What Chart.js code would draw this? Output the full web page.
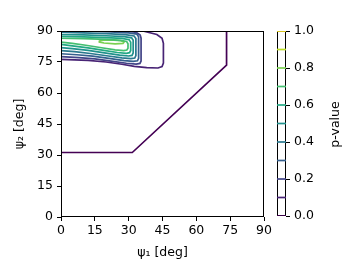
<!DOCTYPE html>
<html><head><meta charset="utf-8">
<script src="https://cdn.jsdelivr.net/npm/chart.js@4/dist/chart.umd.min.js"></script>
<style>
html,body{margin:0;padding:0;background:#fff;overflow:hidden}
#wrap{position:relative;width:350px;height:263px}
#main{position:absolute;left:0;top:0}
#cb{position:absolute;left:270px;top:0}
</style></head><body>
<div id="wrap"><canvas id="main" width="350" height="263"></canvas><canvas id="cb" width="80" height="263"></canvas></div>
<script>
// ---- data (degrees) ----
const xTicks = [0, 15, 30, 45, 60, 75, 90];
const yTicks = [0, 15, 30, 45, 60, 75, 90];
const cbTicks = [0.0, 0.2, 0.4, 0.6, 0.8, 1.0];
const levels = [0.0, 0.1, 0.2, 0.3, 0.4, 0.5, 0.6, 0.7, 0.8, 0.9, 1.0];
const xLabel = 'ψ₁ [deg]';
const yLabel = 'ψ₂ [deg]';
const cbLabel = 'p-value';

// contour lines: [psi1, psi2] vertices per p-value level
const c00 = [[0,31.2],[31.6,31.2],[73.4,73.5],[73.4,90]];
const c01 = [[36.3,90],[42.5,88.3],[44.8,86.5],[45.4,84],[45.4,74.5],[44.8,72.8],[43,72.1],[38,72.3],[32.5,72.9],[27,73.9],[20,75.0],[12,75.8],[0,76.3]];
const c02 = [[29,90],[33.5,89.3],[35.1,88],[35.5,86.5],[35.5,75.5],[35,74.3],[33.3,74],[29,74.4],[23,75.3],[15,76.5],[8,77.1],[0,77.6]];
const c03 = [[12,90],[22,89.6],[30,89.1],[33.6,88.5],[34.4,87.2],[34.4,76.8],[33.9,75.6],[32,75.3],[28,75.7],[22,76.6],[14,77.8],[7,78.5],[0,79]];
const c04 = [[0,89.4],[10,89.1],[20,88.7],[28.5,88.2],[32.4,87.6],[33.2,86.4],[33.2,78.1],[32.7,76.9],[31,76.6],[27,77],[21,77.9],[13,79.1],[6,80],[0,80.5]];
const c05 = [[0,88.3],[10,88.1],[20,87.7],[28,87.3],[31.3,86.7],[32,85.5],[32,79.4],[31.5,78.2],[30,77.9],[26,78.3],[20,79.3],[12,80.6],[5,81.5],[0,82]];
const c06 = [[0,87.4],[10,87.2],[20,86.8],[27,86.4],[30.2,85.8],[30.9,84.6],[30.9,80.6],[30.4,79.5],[29,79.2],[25,79.6],[19,80.6],[12,81.8],[5,82.8],[0,83.5]];
const c07 = [[0,86.5],[10,86.3],[20,85.9],[26.5,85.5],[29.1,84.9],[29.7,83.8],[29.7,81.7],[29.2,80.8],[27.8,80.5],[24,80.9],[18,81.9],[11,83.1],[5,84],[0,84.6]];
const c08 = [[17,85.4],[22,85.7],[26.5,85.3],[28,84.7],[27.5,84.0],[24,83.8],[19,84.2],[17,84.7],[17,85.4]];
const contourLevels = [0.0, 0.1, 0.2, 0.3, 0.4, 0.5, 0.6, 0.7, 0.8];
const contourLines = [c00, c01, c02, c03, c04, c05, c06, c07, c08];

// ---- style ----
const viridis = ['#440154','#482475','#414487','#355f8d','#2a788e','#21918c','#22a884','#44bf70','#7ad151','#bddf26','#fde725'];
const colorFor = v => viridis[Math.round(v * 10)];
const FS = 12.5;
const FONT = {family: "'DejaVu Sans'", size: FS, lineHeight: 1.2};
Chart.defaults.font = {family: "'DejaVu Sans'", size: FS};
Chart.defaults.color = '#000';

function drawFrame(chart) {
  const a = chart.chartArea, ctx = chart.ctx;
  ctx.save();
  ctx.strokeStyle = '#000';
  ctx.lineWidth = 1;
  const l = Math.round(a.left) + 0.5, t = Math.round(a.top) + 0.5;
  const r = Math.round(a.right) - 0.5, b = Math.round(a.bottom) - 0.5;
  ctx.strokeRect(l, t, r - l, b - t);
  ctx.restore();
}

new Chart(document.getElementById('main'), {
  type: 'scatter',
  data: {
    datasets: contourLines.map((pts, i) => ({
      data: pts.map(p => ({x: p[0], y: p[1]})),
      showLine: true,
      borderColor: colorFor(contourLevels[i]),
      borderWidth: 1.7,
      pointRadius: 0,
      tension: 0,
      fill: false
    }))
  },
  options: {
    responsive: false, animation: false,
    layout: {padding: {top: 31, right: 86, left: 0, bottom: 0}},
    plugins: {legend: {display: false}, tooltip: {enabled: false}},
    scales: {
      x: {
        type: 'linear', min: 0, max: 90,
        afterBuildTicks: s => { s.ticks = xTicks.map(v => ({value: v})); },
        afterFit: s => { s.height = 46; },
        grid: {drawOnChartArea: false, drawTicks: true, tickLength: 4, tickColor: '#000', lineWidth: 1},
        border: {display: false},
        ticks: {padding: 2, color: '#000', font: FONT, maxRotation: 0},
        title: {display: true, text: xLabel, color: '#000', font: FONT, padding: {top: 0, bottom: 3}}
      },
      y: {
        type: 'linear', min: 0, max: 90,
        afterBuildTicks: s => { s.ticks = yTicks.map(v => ({value: v})); },
        afterFit: s => { s.width = 61; },
        grid: {drawOnChartArea: false, drawTicks: true, tickLength: 4, tickColor: '#000', lineWidth: 1},
        border: {display: false},
        ticks: {padding: 4, color: '#000', font: FONT},
        title: {display: true, text: yLabel, color: '#000', font: FONT, padding: {top: 12, bottom: 0}}
      }
    }
  },
  plugins: [{id: 'frame', afterDatasetsDraw: drawFrame}]
});

new Chart(document.getElementById('cb'), {
  type: 'scatter',
  data: {
    datasets: levels.map(l => ({
      data: [{x: 0, y: l}, {x: 1, y: l}],
      showLine: true,
      borderColor: colorFor(l),
      borderWidth: 1.7,
      pointRadius: 0
    }))
  },
  options: {
    responsive: false, animation: false,
    layout: {padding: {top: 31, right: 0, left: 7, bottom: 47}},
    plugins: {legend: {display: false}, tooltip: {enabled: false}},
    scales: {
      x: {type: 'linear', min: 0, max: 1, display: false},
      y: {
        type: 'linear', position: 'right', min: 0, max: 1,
        afterBuildTicks: s => { s.ticks = cbTicks.map(v => ({value: v})); },
        afterFit: s => { s.width = 64; },
        grid: {drawOnChartArea: false, drawTicks: true, tickLength: 4, tickColor: '#000'},
        border: {display: false},
        ticks: {padding: 4, color: '#000', font: FONT, callback: v => Number(v).toFixed(1)}
      }
    }
  },
  plugins: [{
    id: 'cbFrame',
    beforeDatasetsDraw: drawFrame,
    afterDraw(chart) {
      const ctx = chart.ctx, a = chart.chartArea;
      ctx.save();
      ctx.fillStyle = '#000';
      ctx.font = FS + "px 'DejaVu Sans'";
      ctx.textAlign = 'center';
      ctx.textBaseline = 'middle';
      ctx.translate(66, (a.top + a.bottom) / 2 + 1);
      ctx.rotate(-Math.PI / 2);
      ctx.fillText(cbLabel, 0, 0);
      ctx.restore();
    }
  }]
});
</script>
</body></html>
